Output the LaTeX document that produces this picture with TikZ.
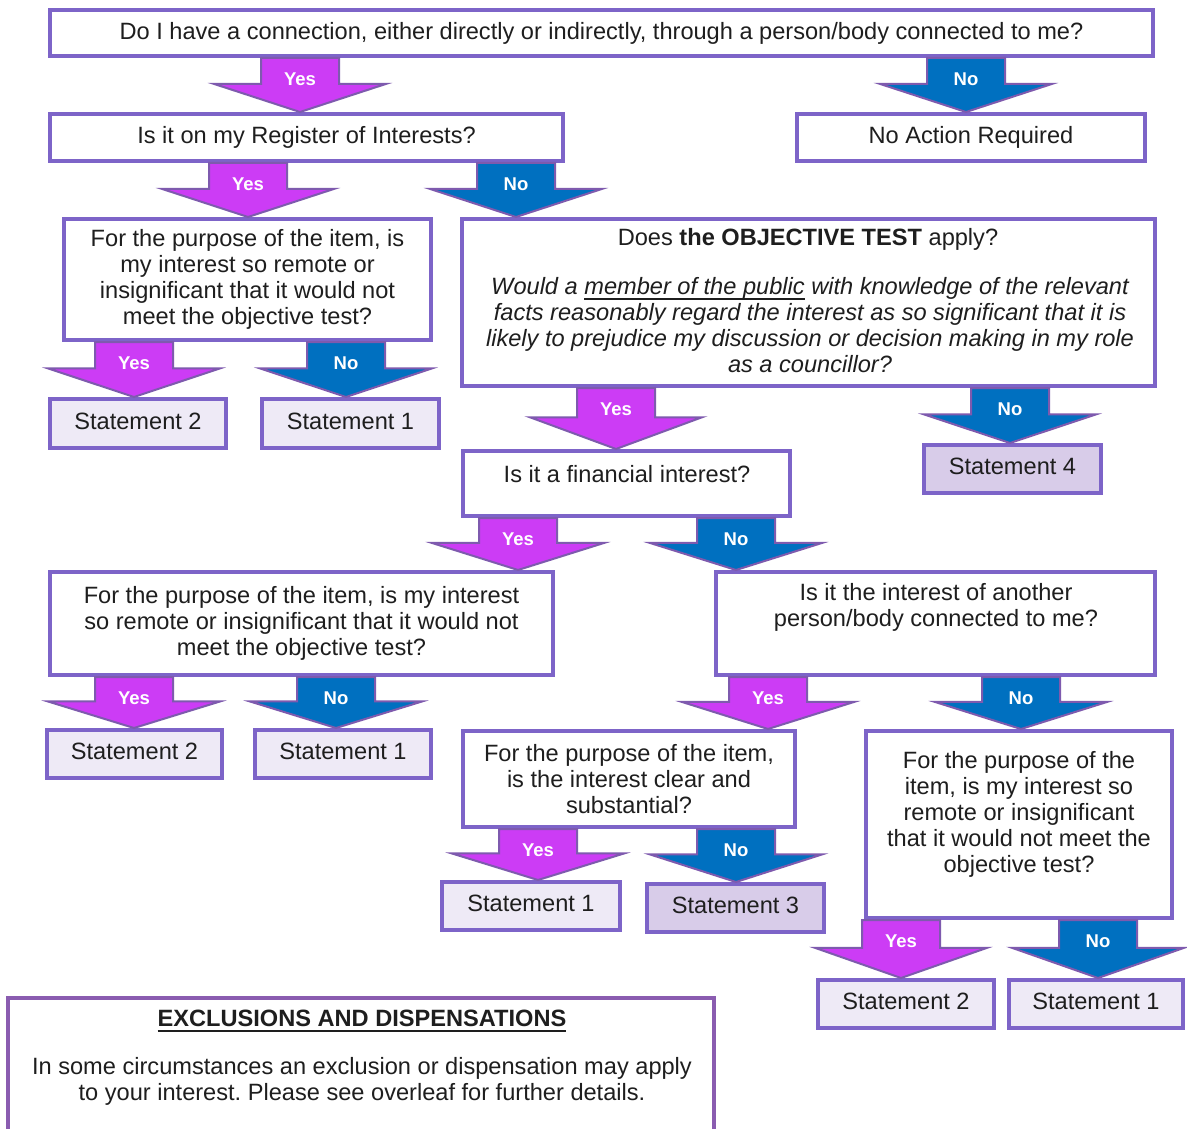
\documentclass[tikz,border=0pt]{standalone}
\usepackage{fontspec}
\setmainfont{Liberation Sans}
\usetikzlibrary{calc}
\frenchspacing
\definecolor{boxcol}{HTML}{7D64C8}
\definecolor{exccol}{HTML}{8A5CB0}
\definecolor{yescol}{HTML}{CC3CF5}
\definecolor{nocol}{HTML}{0070C0}
\definecolor{arrline}{HTML}{7E5AAE}
\definecolor{stmt}{HTML}{EEEAF6}
\definecolor{stmtdark}{HTML}{D8CCE9}
\definecolor{txt}{HTML}{1E1E1E}
\newcommand\mainsize{\fontsize{23.6}{26}\selectfont}
\newcommand\myul[2][1.6pt]{\leavevmode\setbox0=\hbox{#2}\rlap{\rule[-5.5pt]{\wd0}{#1}}\box0\relax}
\tikzset{
  box/.style={draw=boxcol, line width=4pt, fill=white, inner sep=2pt, align=center, text=txt, font=\mainsize},
  stbox/.style={box, fill=stmt, text depth=5pt},
  stdark/.style={box, fill=stmtdark, text depth=5pt},
  excbox/.style={box, draw=exccol},
  txtnode/.style={align=center, text=txt, font=\mainsize, inner sep=0pt},
  yesarr/.style={fill=yescol, draw=arrline, line width=2pt, line join=miter},
  noarr/.style={fill=nocol, draw=arrline, line width=2pt, line join=miter},
  arrlabel/.style={text=white, font=\bfseries\fontsize{18.5}{20}\selectfont, inner sep=0pt}
}
% box: name, x1, y1, x2, y2 (outer edges, px), style, text
\newcommand\bx[7]{\node[#6, anchor=north west, minimum width={#4pt-#2pt-4pt}, minimum height={#5pt-#3pt-4pt}] (#1) at (#2,#3) {#7};}
% block arrow: label name, source, target, x, style, label
\newcommand\barrow[6]{%
  \draw[#5] let \p1=(#4,0 |- #2.south), \p2=(#4,0 |- #3.north) in
    (\x1-39pt,\y1) -- (\x1+39pt,\y1) -- (\x1+39pt,{0.52*\y1+0.48*\y2})
    -- (\x1+86pt,{0.52*\y1+0.48*\y2}) -- (\x1,\y2)
    -- (\x1-86pt,{0.52*\y1+0.48*\y2}) -- (\x1-39pt,{0.52*\y1+0.48*\y2}) -- cycle;
  \node[arrlabel] (#1) at ($(#4,0 |- #2.south)+(0,21)$) {#6};
}
\begin{document}
\begin{tikzpicture}[x=1pt,y=-1pt]
\useasboundingbox (0,0) rectangle (1187,1129);
\fill[white] (0,0) rectangle (1187,1129);
\clip (0,0) rectangle (1187,1129);

\bx{b1}{48}{8}{1155}{58}{box}{Do I have a connection, either directly or indirectly, through a person/body connected to me?}
\bx{b2}{48}{112}{565}{163}{box}{Is it on my Register of Interests?}
\bx{nar}{795}{112}{1147}{163}{box}{No Action Required}
\bx{b3}{62}{217}{433}{342}{box}{For the purpose of the item, is\\my interest so remote or\\insignificant that it would not\\meet the objective test?}
\bx{ot}{460}{217}{1157}{388}{box}{}
\node[txtnode] (ottitle) at (808,239) {Does \textbf{the OBJECTIVE TEST} apply?};
\node[txtnode, font=\mainsize\itshape] (otbody) at (810,325) {Would a \myul{member of the public} with knowledge of the relevant\\facts reasonably regard the interest as so significant that it is\\likely to prejudice my discussion or decision making in my role\\as a councillor?};
\bx{s2a}{48}{397}{228}{450}{stbox}{Statement 2}
\bx{s1a}{260}{397}{441}{450}{stbox}{Statement 1}
\bx{fin}{461}{449}{792}{518}{box}{}
\node[txtnode] (fintext) at (627,474) {Is it a financial interest?};
\bx{s4}{922}{443}{1103}{495}{stdark}{Statement 4}
\bx{bl}{48}{570}{555}{677}{box}{For the purpose of the item, is my interest\\so remote or insignificant that it would not\\meet the objective test?}
\bx{br}{714}{570}{1157}{677}{box}{}
\node[txtnode] (brtext) at (936,607) {Is it the interest of another\\person/body connected to me?};
\bx{s2b}{45}{728}{224}{780}{stbox}{Statement 2}
\bx{s1b}{253}{728}{433}{780}{stbox}{Statement 1}
\bx{clr}{461}{729}{797}{829}{box}{For the purpose of the item,\\is the interest clear and\\substantial?}
\bx{rem}{864}{729}{1174}{920}{box}{}
\node[txtnode] (remtext) at (1019,814) {For the purpose of the\\item, is my interest so\\remote or insignificant\\that it would not meet the\\objective test?};
\bx{s1c}{440}{880}{622}{932}{stbox}{Statement 1}
\bx{s3}{645}{882}{826}{934}{stdark}{Statement 3}
\bx{s2c}{816}{978}{996}{1030}{stbox}{Statement 2}
\bx{s1d}{1007}{978}{1185}{1030}{stbox}{Statement 1}
\bx{exc}{6}{996}{716}{1145}{excbox}{}
\node[txtnode] (exctitle) at (362,1021) {\myul[2pt]{\textbf{EXCLUSIONS AND DISPENSATIONS}}};
\node[txtnode] (excbody) at (362,1081) {In some circumstances an exclusion or dispensation may apply\\to your interest. Please see overleaf for further details.};

\barrow{l1}{b1}{b2}{300}{yesarr}{Yes}
\barrow{l2}{b1}{nar}{966}{noarr}{No}
\barrow{l3}{b2}{b3}{248}{yesarr}{Yes}
\barrow{l4}{b2}{ot}{516}{noarr}{No}
\barrow{l5}{b3}{s2a}{134}{yesarr}{Yes}
\barrow{l6}{b3}{s1a}{346}{noarr}{No}
\barrow{l7}{ot}{fin}{616}{yesarr}{Yes}
\barrow{l8}{ot}{s4}{1010}{noarr}{No}
\barrow{l9}{fin}{bl}{518}{yesarr}{Yes}
\barrow{l10}{fin}{br}{736}{noarr}{No}
\barrow{l11}{bl}{s2b}{134}{yesarr}{Yes}
\barrow{l12}{bl}{s1b}{336}{noarr}{No}
\barrow{l13}{br}{clr}{768}{yesarr}{Yes}
\barrow{l14}{br}{rem}{1021}{noarr}{No}
\barrow{l15}{clr}{s1c}{538}{yesarr}{Yes}
\barrow{l16}{clr}{s3}{736}{noarr}{No}
\barrow{l17}{rem}{s2c}{901}{yesarr}{Yes}
\barrow{l18}{rem}{s1d}{1098}{noarr}{No}
\end{tikzpicture}
\end{document}
